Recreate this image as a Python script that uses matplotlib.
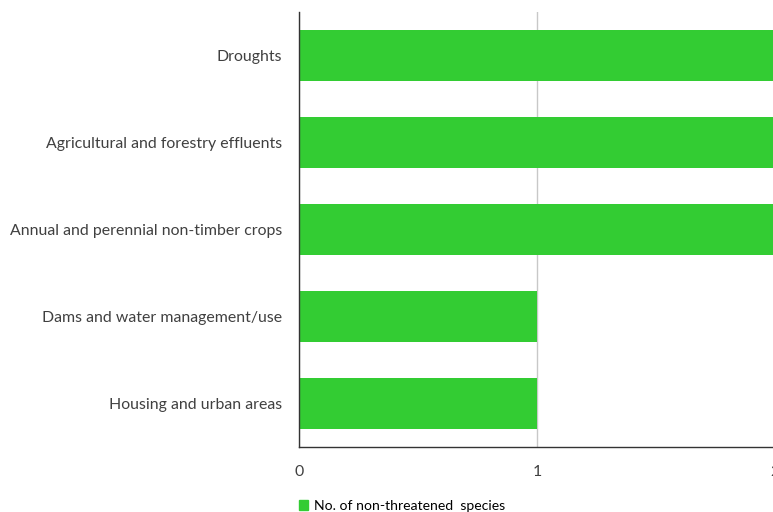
import matplotlib
matplotlib.use("Agg")
import matplotlib.pyplot as plt
from matplotlib.patches import Patch

categories = ["Droughts", "Agricultural and forestry effluents",
              "Annual and perennial non-timber crops",
              "Dams and water management/use", "Housing and urban areas"]
values = [2, 2, 2, 1, 1]
series_name = "No. of non-threatened  species"
xticks = [0, 1, 2]

plt.rcParams['font.family'] = ['Lato', 'DejaVu Sans']
fig = plt.figure(figsize=(7.73, 5.12), dpi=100)
ax = fig.add_axes([299/773, 65/512, 476/773, 435/512])

ypos = list(range(len(categories)))[::-1]
ax.barh(ypos, values, height=0.575, color="#33CC33", zorder=2)
ax.set_ylim(-0.5, len(categories) - 0.5)
ax.set_xlim(0, 2)
ax.set_yticks(ypos)
ax.set_yticklabels(categories, fontsize=11.4, color="#404040")
ax.set_xticks(xticks)
ax.set_xticklabels([str(t) for t in xticks], fontsize=11.4, color="#404040")
ax.tick_params(length=0, pad=12)
ax.tick_params(axis='x', pad=13)
ax.xaxis.grid(True, color="#c8c8c8", linewidth=1, zorder=0)
for s in ["top", "right"]:
    ax.spines[s].set_visible(False)
for s in ["left", "bottom"]:
    ax.spines[s].set_color("#333333")
    ax.spines[s].set_linewidth(1)

fig.legend(handles=[Patch(color="#33CC33", label=series_name)],
           loc="center left", bbox_to_anchor=(286/773, 1 - 506/512),
           frameon=False, fontsize=10.1, handlelength=0.7, handleheight=0.7,
           handletextpad=0.4, labelcolor="#000000")
fig.savefig("out.png", dpi=100)
